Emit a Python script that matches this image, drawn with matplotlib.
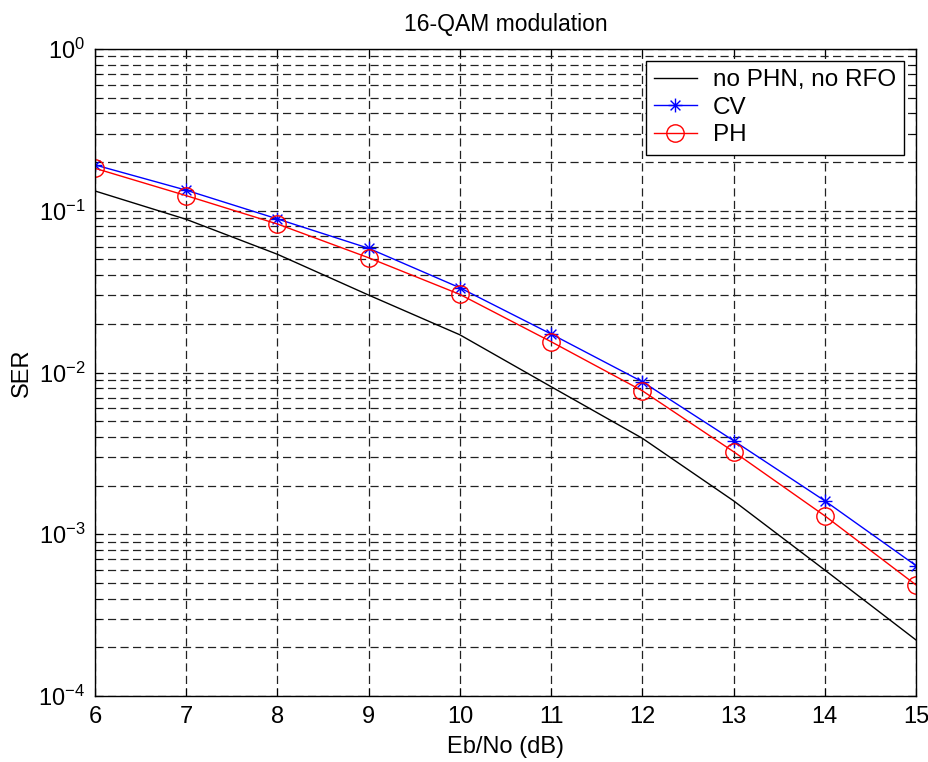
import matplotlib
matplotlib.use("Agg")
import matplotlib.pyplot as plt
from matplotlib.ticker import LogLocator, NullFormatter
from matplotlib.path import Path

ebno = [6, 7, 8, 9, 10, 11, 12, 13, 14, 15]
ser_ideal = [0.1325, 0.0885, 0.0538, 0.0301, 0.0171, 0.00817, 0.00392, 0.00161, 0.000601, 0.000222]
ser_cv = [0.192, 0.134, 0.089, 0.0586, 0.0334, 0.0173, 0.00877, 0.00379, 0.00161, 0.00064]
ser_ph = [0.183, 0.124, 0.0828, 0.0512, 0.0304, 0.0155, 0.00771, 0.00324, 0.0013, 0.000486]
labels = ["no PHN, no RFO", "CV", "PH"]

plt.rcParams['font.family'] = ['Liberation Sans', 'DejaVu Sans']
plt.rcParams['mathtext.fontset'] = 'custom'
plt.rcParams['mathtext.rm'] = 'Liberation Sans'
plt.rcParams['mathtext.it'] = 'Liberation Sans:italic'
plt.rcParams['mathtext.bf'] = 'Liberation Sans:bold'

# MATLAB-style asterisk marker: plus + cross made of line segments
d = 0.7071
star_path = Path(
    [(-1, 0), (1, 0), (0, -1), (0, 1), (-d, -d), (d, d), (-d, d), (d, -d)],
    [Path.MOVETO, Path.LINETO] * 4,
)

fig = plt.figure(figsize=(9.29, 7.62), dpi=100)
ax = fig.add_axes([95/929, 1-696/762, (916-95)/929, (696-49)/762])

ax.semilogy(ebno, ser_ideal, color='black', lw=1.0, label=labels[0])
ax.semilogy(ebno, ser_cv, color='blue', lw=1.0, marker=star_path, markersize=10,
            markerfacecolor='none', markeredgewidth=1.0, label=labels[1])
ax.semilogy(ebno, ser_ph, color='red', lw=1.0, marker='o', markersize=12.5,
            markerfacecolor='none', markeredgewidth=1.0, label=labels[2])

ax.set_xlim(6, 15)
ax.set_ylim(1e-4, 1)
ax.set_xticks(ebno)
ax.yaxis.set_major_locator(LogLocator(base=10, numticks=10))
ax.yaxis.set_minor_locator(LogLocator(base=10, subs=range(2, 10), numticks=100))
ax.yaxis.set_minor_formatter(NullFormatter())

ax.grid(True, which='major', axis='both', linestyle=(0, (6.5, 3.5)), color='#222222', lw=0.9)
ax.grid(True, which='minor', axis='y', linestyle=(0, (6.5, 3.5)), color='#222222', lw=0.9)

ax.tick_params(which='both', direction='in', top=True, right=True, labelsize=17)
ax.tick_params(which='major', length=6, pad=7)
ax.tick_params(which='minor', length=4)
for s in ax.spines.values():
    s.set_linewidth(1.0)

ax.set_title("16-QAM modulation", fontsize=16.5, pad=13)
ax.set_xlabel("Eb/No (dB)", fontsize=17, labelpad=6)
ax.set_ylabel("SER", fontsize=17, labelpad=4)

leg = ax.legend(loc='upper right', fontsize=17.5, handlelength=1.75, fancybox=False,
                framealpha=1, edgecolor='black', borderaxespad=0.48, borderpad=0.35,
                labelspacing=0.23, handletextpad=0.66)
leg.get_frame().set_linewidth(1.0)

fig.savefig("out.png", dpi=100)
